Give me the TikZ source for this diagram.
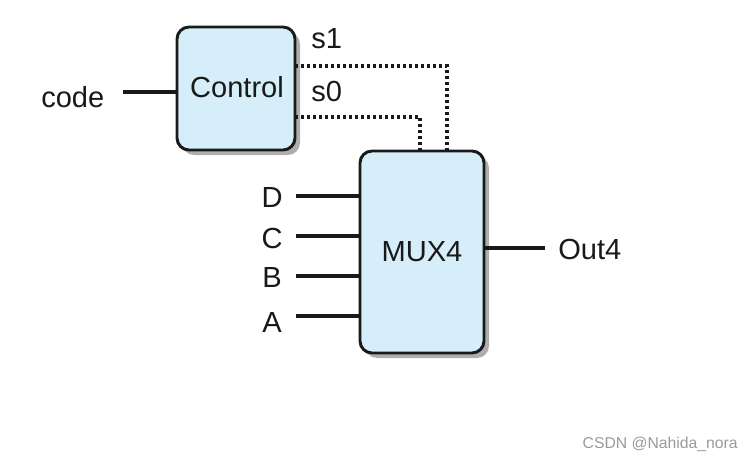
\documentclass[tikz,border=0pt]{standalone}
\usepackage{fontspec}
\setmainfont{Liberation Sans}
\definecolor{boxfill}{HTML}{D5EEF9}
\definecolor{shadowc}{HTML}{AEAEAE}
\definecolor{wm}{HTML}{9A9A9A}
\begin{document}
\begin{tikzpicture}[x=0.75pt,y=-0.75pt,
  blk/.style={draw=black!90, line width=2.2pt, fill=boxfill, rounded corners=9pt, inner sep=0pt},
  shd/.style={fill=shadowc, rounded corners=9pt},
  wire/.style={line width=2.4pt, black!90},
  sel/.style={line width=2.5pt, black!90, dash pattern=on 2.4pt off 2.1pt},
  lbl/.style={font=\fontsize{21.8}{26}\selectfont, text=black!90, inner sep=0pt}]
\useasboundingbox (0,0) rectangle (754,464);
% shadows
\fill[shd] (182,32) rectangle (300,155);
\fill[shd] (365,156) rectangle (489,358);
% boxes
\draw[blk] (177,27) rectangle (295,150);
\draw[blk] (360,151) rectangle (484,353);
\node[lbl] (ctrl) at (237,87) {Control};
\node[lbl] (mux) at (422,252) {MUX4};
\coordinate (ctrlL) at (177,92);
\coordinate (ctrlS1) at (295,66);
\coordinate (ctrlS0) at (295,117);
\coordinate (muxS1) at (447,151);
\coordinate (muxS0) at (420,151);
\coordinate (muxD) at (360,196);
\coordinate (muxC) at (360,236);
\coordinate (muxB) at (360,276);
\coordinate (muxA) at (360,316);
\coordinate (muxO) at (484,248);
% code
\node[lbl, anchor=west] (code) at (41,97) {code};
\coordinate (codeE) at (123,92);
\draw[wire] (codeE) -- (ctrlL);
% select lines
\draw[sel] (ctrlS1) -| (muxS1);
\draw[sel] (ctrlS0) -| (muxS0);
\node[lbl, anchor=west] (s1) at (311,39) {s1};
\node[lbl, anchor=west] (s0) at (311,91) {s0};
% inputs
\node[lbl] (D) at (272,197) {D};
\node[lbl] (C) at (272,238) {C};
\node[lbl] (B) at (272,277) {B};
\node[lbl] (A) at (272,322) {A};
\coordinate (De) at (296,196);
\coordinate (Ce) at (296,236);
\coordinate (Be) at (296,276);
\coordinate (Ae) at (296,316);
\draw[wire] (De) -- (muxD);
\draw[wire] (Ce) -- (muxC);
\draw[wire] (Be) -- (muxB);
\draw[wire] (Ae) -- (muxA);
% output
\node[lbl, anchor=west] (out) at (558,249) {Out4};
\coordinate (outE) at (545,248);
\draw[wire] (muxO) -- (outE);
% watermark
\node[font=\fontsize{11.8}{14}\selectfont, text=wm, anchor=east, inner sep=0pt] (wmk) at (738,444) {CSDN @Nahida\_nora};
\end{tikzpicture}
\end{document}
